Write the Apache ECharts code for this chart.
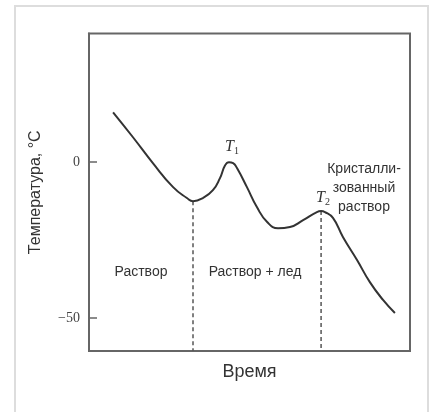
<!DOCTYPE html>
<html>
<head>
<meta charset="utf-8">
<script src="https://cdn.jsdelivr.net/npm/echarts@6/dist/echarts.min.js"></script>
<style>html,body{margin:0;padding:0;background:#fff;}#c{width:433px;height:412px;}</style>
</head>
<body>
<div id="c"></div>
<script>
// Data
const timeValues = [7.5, 13.7, 19.9, 26.2, 30.5, 32.4, 35.5, 38.6, 40.8, 42.4, 43.6, 44.9, 46.1, 49.2, 52.3, 55.5, 58.9, 62.6, 66.7, 71.0, 72.3, 73.5, 76.0, 79.1, 83.5, 87.5, 91.6, 95.3];
const tempValues = [16.0, 8.0, -0.3, -8.0, -11.5, -12.5, -11.5, -9.0, -5.1, -1.0, 0, -0.3, -1.9, -8.0, -14.4, -19.2, -21.2, -20.8, -18.6, -16.0, -15.7, -16.0, -17.9, -24.0, -31.4, -38.5, -44.2, -48.4];
const transitionTimes = [32.4, 72.3];
const transitionTemps = [-12.5, -15.7];
const yTickValues = [0, -50];
const yTickLabels = {'0': '0', '-50': '\u221250'};
const regionLabels = ['Раствор', 'Раствор + лед', 'Кристалли-\nзованный\nраствор'];
const pointLabels = ['1', '2'];
const yMin = -60.6, yMax = 41.3;
const xMin = 0, xMax = 100;

const curve = timeValues.map((t, i) => [t, tempValues[i]]);
const dashSeries = transitionTimes.map((t, i) => ({
  type: 'line',
  data: [[t, transitionTemps[i]], [t, yMin]],
  symbol: 'none',
  silent: true,
  lineStyle: { color: '#555', width: 1.5, type: [4, 3] },
  z: 1
}));

const chart = echarts.init(document.getElementById('c'), null, { renderer: 'canvas' });
const axisColor = '#666';
const option = {
  animation: false,
  backgroundColor: '#fff',
  grid: { left: 89, right: 23, top: 33.5, bottom: 61, show: true, borderColor: axisColor, borderWidth: 2, containLabel: false },
  xAxis: {
    type: 'value', min: xMin, max: xMax,
    name: 'Время', nameLocation: 'middle', nameGap: 12,
    nameTextStyle: { fontFamily: 'Liberation Sans', fontSize: 18, color: '#333' },
    axisLine: { show: true, onZero: false, lineStyle: { color: axisColor, width: 2 } },
    axisTick: { show: false }, axisLabel: { show: false }, splitLine: { show: false }
  },
  yAxis: {
    type: 'value', min: yMin, max: yMax,
    name: 'Температура, °С', nameLocation: 'middle', nameGap: 45, nameRotate: 90,
    nameTextStyle: { fontFamily: 'Liberation Sans', fontSize: 16, color: '#333' },
    axisLine: { show: true, onZero: false, lineStyle: { color: axisColor, width: 2 } },
    axisTick: { show: true, inside: true, length: 8, customValues: yTickValues, lineStyle: { color: axisColor, width: 1.5 } },
    axisLabel: { show: true, customValues: yTickValues, margin: 9, fontFamily: 'Liberation Serif', fontSize: 14, color: '#444',
      formatter: v => yTickLabels[String(Math.round(v))] },
    splitLine: { show: false }
  },
  series: [
    {
      type: 'line', data: curve, smooth: 0.5, symbol: 'none', silent: true,
      lineStyle: { color: '#333', width: 2 }, z: 3
    },
    ...dashSeries
  ],
  graphic: [
    { type: 'rect', shape: { x: 15, y: 6, width: 413, height: 420 }, style: { fill: 'none', stroke: '#ddd', lineWidth: 2 }, silent: true },
    { type: 'text', x: 141, y: 272, style: { text: regionLabels[0], font: '14px "Liberation Sans"', fill: '#333', textAlign: 'center', textVerticalAlign: 'middle' } },
    { type: 'text', x: 255, y: 272, style: { text: regionLabels[1], font: '14px "Liberation Sans"', fill: '#333', textAlign: 'center', textVerticalAlign: 'middle' } },
    { type: 'text', x: 364, y: 188, style: { text: regionLabels[2], font: '14px "Liberation Sans"', lineHeight: 19, fill: '#333', textAlign: 'center', textVerticalAlign: 'middle' } },
    { type: 'text', x: 232, y: 147, style: { text: '{t|T}{s|' + pointLabels[0] + '}', textAlign: 'center', textVerticalAlign: 'middle',
        rich: { t: { fontFamily: 'Liberation Serif', fontStyle: 'italic', fontSize: 16, fill: '#333' }, s: { fontFamily: 'Liberation Serif', fontSize: 10, fill: '#333', padding: [8, 0, 0, 0] } } } },
    { type: 'text', x: 323, y: 198, style: { text: '{t|T}{s|' + pointLabels[1] + '}', textAlign: 'center', textVerticalAlign: 'middle',
        rich: { t: { fontFamily: 'Liberation Serif', fontStyle: 'italic', fontSize: 16, fill: '#333' }, s: { fontFamily: 'Liberation Serif', fontSize: 10, fill: '#333', padding: [8, 0, 0, 0] } } } }
  ]
};
chart.setOption(option);
</script>
</body>
</html>
